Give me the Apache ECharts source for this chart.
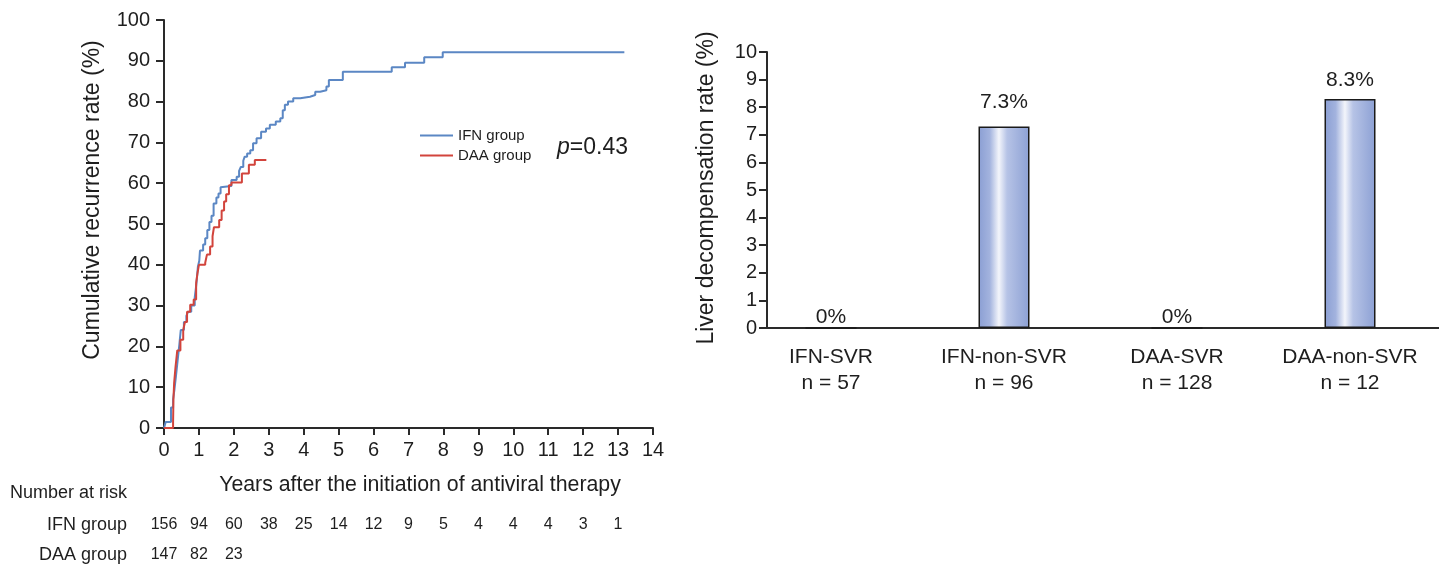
<!DOCTYPE html>
<html>
<head>
<meta charset="utf-8">
<script src="https://cdn.jsdelivr.net/npm/echarts@6/dist/echarts.min.js"></script>
<style>
  html, body { margin: 0; padding: 0; background: #ffffff; }
  #chart { width: 1439px; height: 568px; }
</style>
</head>
<body>
<div id="chart"></div>
<script>
// Kaplan-Meier curves: event time (years) and cumulative recurrence rate (%)
const ifnYears = [0, 0.05, 0.2, 0.26, 0.3, 0.34, 0.39, 0.44, 0.48, 0.57, 0.64, 0.69, 0.78, 0.88, 0.93, 0.97, 1.01, 1.03, 1.12, 1.18, 1.24, 1.3, 1.36, 1.42, 1.5, 1.56, 1.62, 1.66, 1.93, 2.08, 2.15, 2.2, 2.27, 2.31, 2.38, 2.47, 2.55, 2.65, 2.78, 2.92, 3.03, 3.2, 3.33, 3.4, 3.46, 3.55, 3.7, 3.9, 4.18, 4.33, 4.47, 4.65, 4.72, 5.12, 6.52, 6.9, 7.45, 7.98, 13.18];
const ifnRates = [0, 1.5, 5, 7, 9.5, 12.5, 16.5, 20.5, 24, 26, 27.5, 28.5, 30, 32, 35.5, 39.5, 41, 43.5, 45, 46.5, 48.5, 50.5, 52, 55, 56.5, 57.5, 59, 59.3, 60.8, 61.6, 63, 64, 65.5, 66.5, 67.3, 68.1, 69.8, 71, 72.6, 73.4, 74.3, 75.1, 75.9, 77.9, 79.2, 80, 80.8, 81.2, 81.6, 82.4, 82.8, 83.7, 85.3, 87.3, 88.4, 89.5, 90.9, 92.1, 92.1];
const daaYears = [0, 0.26, 0.27, 0.29, 0.33, 0.38, 0.47, 0.55, 0.6, 0.66, 0.75, 0.85, 0.92, 0.96, 1.0, 1.18, 1.23, 1.32, 1.39, 1.43, 1.58, 1.65, 1.72, 1.78, 1.86, 1.93, 2.23, 2.43, 2.6, 2.93];
const daaRates = [0, 1.3, 7, 11, 15, 19, 21.6, 24, 26, 28.5, 30.2, 31.5, 35.5, 38, 40, 40.5, 42.5, 44.5, 47, 49.2, 51, 53.3, 55.5, 57.3, 59.5, 60.2, 62.4, 64.5, 65.7, 65.7];

// Number at risk table
const riskGroups = ['IFN group', 'DAA group'];
const riskYears = [0, 1, 2, 3, 4, 5, 6, 7, 8, 9, 10, 11, 12, 13];
const ifnAtRisk = [156, 94, 60, 38, 25, 14, 12, 9, 5, 4, 4, 4, 3, 1];
const daaAtRisk = [147, 82, 23];

// Liver decompensation by treatment outcome
const decompGroups = ['IFN-SVR', 'IFN-non-SVR', 'DAA-SVR', 'DAA-non-SVR'];
const decompN = [57, 96, 128, 12];
const decompRates = [0, 7.3, 0, 8.3];

const FONT = '"Liberation Sans", Arial, Helvetica, sans-serif';
const INK = '#1e1e1e';
const AXIS = '#2a2a2a';
const BLUE = '#5b87c4';
const RED = '#d2443c';

// gap between each bar top and its value label
const barLabelGap = [0, 14, 0, 8];

const zip = (xs, ys) => xs.map((x, i) => [x, ys[i]]);
const riskPoints = (counts, row) => counts.map((n, i) => [riskYears[i], row, n]);

const axisLine = { show: true, onZero: false, lineStyle: { color: AXIS, width: 2 } };
const riskLabel = {
  show: true, position: 'inside', formatter: p => String(p.value[2]),
  fontSize: 16, color: INK, fontFamily: FONT, opacity: 1
};

const chart = echarts.init(document.getElementById('chart'), null, { renderer: 'canvas' });

chart.setOption({
  animation: false,
  backgroundColor: '#ffffff',
  textStyle: { fontFamily: FONT, color: INK },
  grid: [
    { left: 164, top: 20, width: 489, height: 408, outerBoundsMode: 'none' },
    { left: 164, top: 510, width: 489, height: 60, outerBoundsMode: 'none' },
    { left: 767, top: 52, width: 672, height: 276, outerBoundsMode: 'none' },
    { left: 744.5, top: 52, width: 692, height: 276, outerBoundsMode: 'none' }
  ],
  xAxis: [
    {
      gridIndex: 0, type: 'value', min: 0, max: 14, interval: 1,
      axisLine: axisLine,
      axisTick: { show: true, inside: false, length: 7, lineStyle: { color: AXIS, width: 2 } },
      axisLabel: { fontSize: 20, color: INK, fontFamily: FONT, margin: 12, hideOverlap: false },
      splitLine: { show: false }
    },
    { gridIndex: 1, type: 'value', min: 0, max: 14, show: false },
    {
      gridIndex: 2, type: 'value', min: -0.37, max: 3.514,
      axisLine: axisLine,
      axisTick: { show: false }, axisLabel: { show: false }, splitLine: { show: false }
    },
    {
      gridIndex: 3, type: 'category', data: decompGroups,
      axisLine: { show: false }, axisTick: { show: false },
      axisLabel: {
        fontSize: 21, color: INK, fontFamily: FONT, margin: 16, lineHeight: 26,
        interval: 0,
        formatter: (v, i) => v + '\nn = ' + decompN[i]
      }
    }
  ],
  yAxis: [
    {
      gridIndex: 0, type: 'value', min: 0, max: 100, interval: 10,
      axisLine: axisLine,
      axisTick: { show: true, inside: false, length: 8, lineStyle: { color: AXIS, width: 2 } },
      axisLabel: { fontSize: 20, color: INK, fontFamily: FONT, margin: 14 },
      splitLine: { show: false }
    },
    {
      gridIndex: 1, type: 'category', data: riskGroups, inverse: true,
      axisLine: { show: false }, axisTick: { show: false },
      axisLabel: { fontSize: 18, color: INK, fontFamily: FONT, margin: 37 }
    },
    {
      gridIndex: 2, type: 'value', min: 0, max: 10, interval: 1,
      axisLine: axisLine,
      axisTick: { show: true, inside: false, length: 8, lineStyle: { color: AXIS, width: 2 } },
      axisLabel: { fontSize: 20, color: INK, fontFamily: FONT, margin: 10 },
      splitLine: { show: false }
    },
    { gridIndex: 3, type: 'value', min: 0, max: 10, show: false }
  ],
  legend: {
    orient: 'vertical', left: 415, top: 123, itemGap: 5,
    icon: 'rect', itemWidth: 33, itemHeight: 2,
    textStyle: { fontSize: 15, color: INK, fontFamily: FONT, lineHeight: 15 },
    data: ['IFN group', 'DAA group']
  },
  series: [
    {
      name: 'IFN group', type: 'line', xAxisIndex: 0, yAxisIndex: 0,
      step: 'end', showSymbol: false, symbol: 'none',
      lineStyle: { color: BLUE, width: 2 }, itemStyle: { color: BLUE },
      data: zip(ifnYears, ifnRates), z: 3
    },
    {
      name: 'DAA group', type: 'line', xAxisIndex: 0, yAxisIndex: 0,
      step: 'end', showSymbol: false, symbol: 'none',
      lineStyle: { color: RED, width: 2 }, itemStyle: { color: RED },
      data: zip(daaYears, daaRates), z: 4
    },
    {
      name: 'risk-ifn', type: 'scatter', xAxisIndex: 1, yAxisIndex: 1,
      symbolSize: 1, itemStyle: { color: '#ffffff', opacity: 1 },
      label: riskLabel, emphasis: { disabled: true },
      data: riskPoints(ifnAtRisk, riskGroups[0])
    },
    {
      name: 'risk-daa', type: 'scatter', xAxisIndex: 1, yAxisIndex: 1,
      symbolSize: 1, itemStyle: { color: '#ffffff', opacity: 1 },
      label: riskLabel, emphasis: { disabled: true },
      data: riskPoints(daaAtRisk, riskGroups[1])
    },
    {
      name: 'Liver decompensation', type: 'bar', xAxisIndex: 3, yAxisIndex: 3,
      barWidth: 51,
      itemStyle: {
        borderColor: '#1a1a1a', borderWidth: 1.5,
        color: new echarts.graphic.LinearGradient(0, 0, 1, 0, [
          { offset: 0, color: '#8a9ed3' },
          { offset: 0.22, color: '#a3b3de' },
          { offset: 0.4, color: '#f3f5fb' },
          { offset: 0.56, color: '#b6c3e6' },
          { offset: 1, color: '#8ca0d4' }
        ])
      },
      label: {
        show: true, position: 'top',
        formatter: p => p.value + '%', fontSize: 21, color: INK, fontFamily: FONT
      },
      data: decompRates.map((v, i) => ({ value: v, label: { distance: barLabelGap[i] } }))
    }
  ],
  graphic: [
    {
      type: 'text', x: 93, y: 200, rotation: Math.PI / 2,
      style: { text: 'Cumulative recurrence rate (%)', fontSize: 23, fontFamily: FONT, fill: INK, align: 'center', verticalAlign: 'middle', textAlign: 'center', textVerticalAlign: 'middle' }
    },
    {
      type: 'text', x: 420, y: 485,
      style: { text: 'Years after the initiation of antiviral therapy', fontSize: 21.3, fontFamily: FONT, fill: INK, align: 'center', verticalAlign: 'middle', textAlign: 'center', textVerticalAlign: 'middle' }
    },
    {
      type: 'text', x: 10, y: 493,
      style: { text: 'Number at risk', fontSize: 18, fontFamily: FONT, fill: INK, align: 'left', verticalAlign: 'middle', textAlign: 'left', textVerticalAlign: 'middle' }
    },
    {
      type: 'text', x: 557, y: 148,
      style: {
        text: '{i|p}{n|=0.43}', fontFamily: FONT, fill: INK, align: 'left', verticalAlign: 'middle', textAlign: 'left', textVerticalAlign: 'middle',
        rich: {
          i: { fontSize: 23, fontStyle: 'italic', fontFamily: FONT, fill: INK },
          n: { fontSize: 23, fontFamily: FONT, fill: INK }
        }
      }
    },
    {
      type: 'text', x: 707, y: 188, rotation: Math.PI / 2,
      style: { text: 'Liver decompensation rate (%)', fontSize: 23, fontFamily: FONT, fill: INK, align: 'center', verticalAlign: 'middle', textAlign: 'center', textVerticalAlign: 'middle' }
    }
  ]
});
</script>
</body>
</html>
